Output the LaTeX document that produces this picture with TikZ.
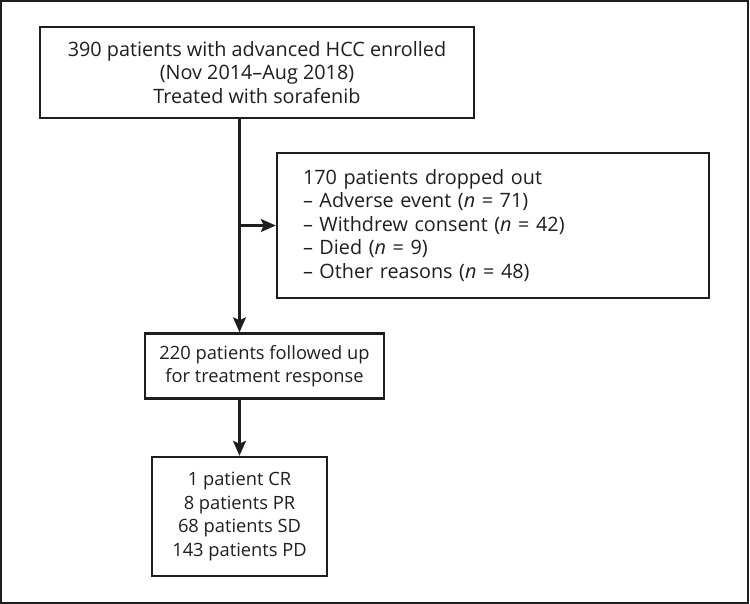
\documentclass[tikz,border=0pt]{standalone}
\usepackage{fontspec}
\setmainfont{Open Sans}
\usetikzlibrary{arrows.meta}
\definecolor{ink}{HTML}{1E1E1E}
\begin{document}
\begin{tikzpicture}[x=1pt,y=-1pt,
  box/.style={draw=ink,line width=2.4pt,text=ink,font=\fontsize{19.8}{23.5}\selectfont,inner sep=0pt},
  small/.style={font=\fontsize{18.3}{23.5}\selectfont},
  arr/.style={draw=ink,line width=2.4pt,-{Stealth[length=15pt,width=13pt,inset=3pt]}}]
\useasboundingbox (0,0) rectangle (750,604);
\draw[ink,line width=2.4pt] (1.2,1.2) rectangle (748.2,602.8);
\node[box,minimum width=434pt,minimum height=91pt,align=center] (b1) at (257,72.5)
  {390 patients with advanced HCC enrolled\\(Nov 2014–Aug 2018)\\Treated with sorafenib};
\node[box,text width=380pt,inner xsep=26pt,minimum height=145pt,align=left] (b2) at (493,225.5)
  {170 patients dropped out\\– Adverse event (\textit{n} = 71)\\– Withdrew consent (\textit{n} = 42)\\– Died (\textit{n} = 9)\\– Other reasons (\textit{n} = 48)};
\node[box,small,minimum width=239pt,minimum height=65pt,align=center] (b3) at (264.5,366)
  {220 patients followed up\\for treatment response};
\node[box,small,minimum width=175pt,minimum height=119pt,align=center] (b4) at (239.5,516.5)
  {1 patient CR\\8 patients PR\\68 patients SD\\143 patients PD};
\draw[arr] (b1.south -| b4) -- (b3.north -| b4);
\draw[arr] (b2.west -| b4) -- (b2.west);
\draw[arr] (b3.south -| b4) -- (b4.north);
\end{tikzpicture}
\end{document}
